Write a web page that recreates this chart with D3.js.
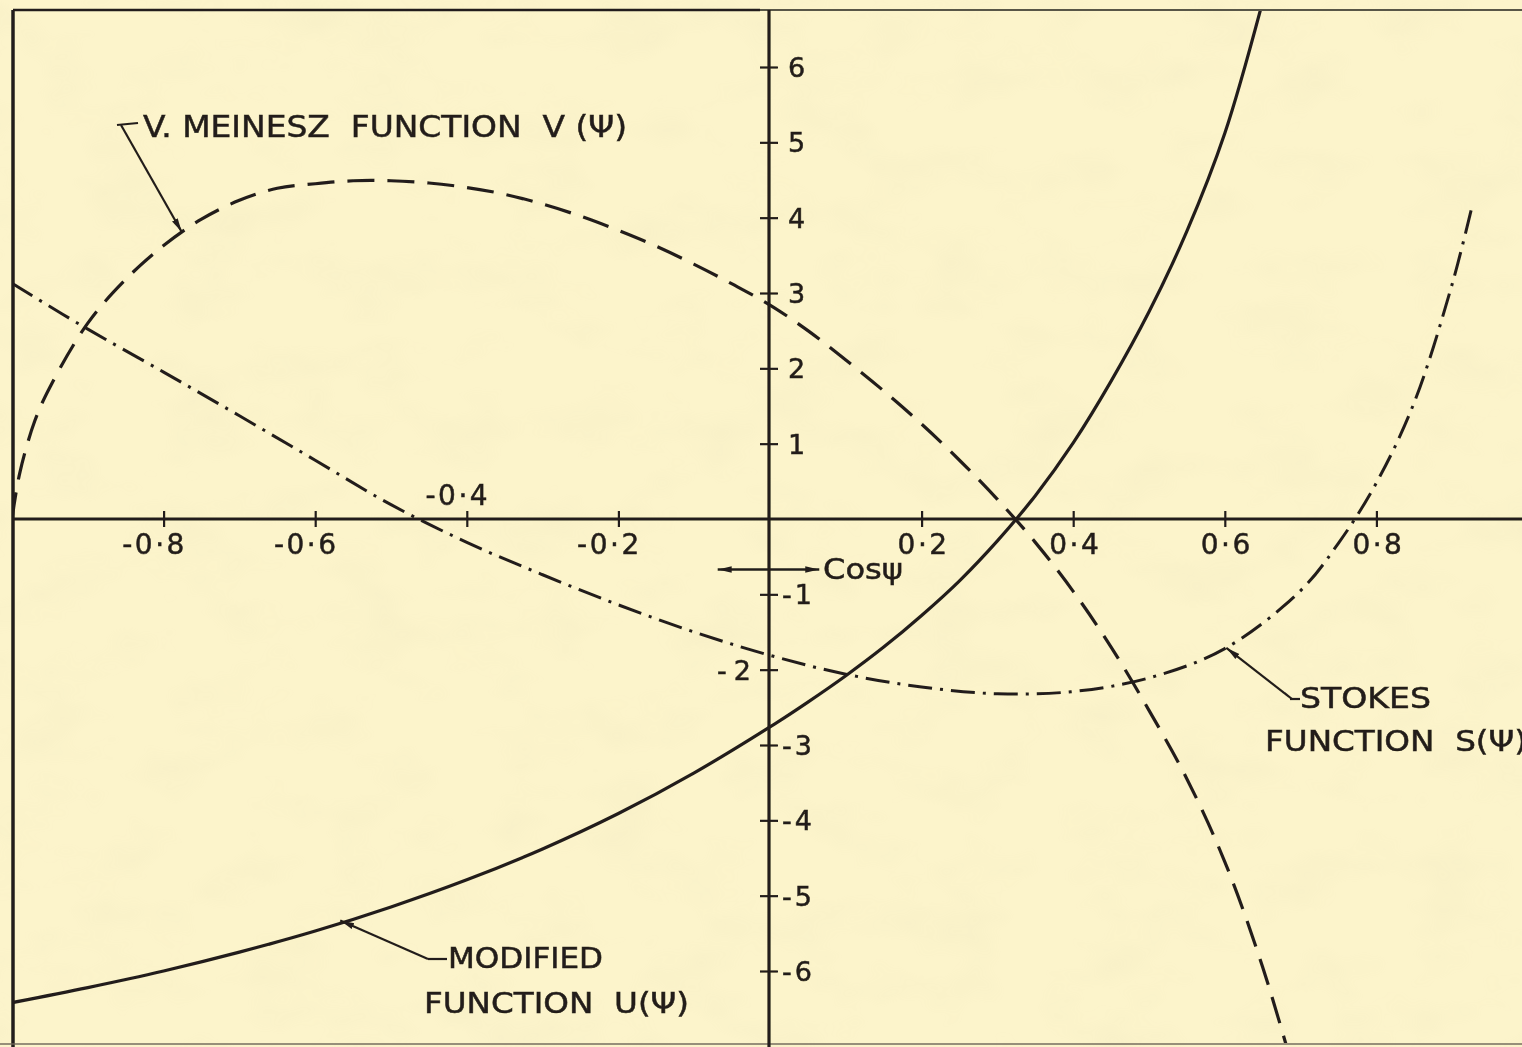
<!DOCTYPE html>
<html>
<head>
<meta charset="utf-8">
<script src="https://cdn.jsdelivr.net/npm/d3@7"></script>
<style>
  html, body { margin: 0; padding: 0; background: #fcf4cb; }
  svg { display: block; }
  text { font-family: "DejaVu Sans", "Liberation Sans", sans-serif; fill: #231f1a; stroke: #231f1a; stroke-width: 0.5px; }
</style>
</head>
<body>
<svg id="chart" width="1522" height="1047"></svg>
<script>
// Stokes function S(psi) against cos(psi)
const stokesCos = [-1, -0.95, -0.9, -0.8, -0.7, -0.6, -0.5, -0.4, -0.3, -0.2, -0.1, 0, 0.1, 0.2, 0.3, 0.4, 0.5, 0.6, 0.7, 0.75, 0.8, 0.85, 0.9, 0.925];
const stokesS   = [3.13, 2.82, 2.52, 1.95, 1.37, 0.78, 0.19, -0.31, -0.74, -1.14, -1.50, -1.81, -2.06, -2.23, -2.32, -2.29, -2.11, -1.72, -0.95, -0.32, 0.48, 1.55, 3.12, 4.10];

// Vening Meinesz function V(psi)
const meineszCos = [-1, -0.99, -0.97, -0.95, -0.9, -0.85, -0.8, -0.75, -0.7, -0.65, -0.6, -0.55, -0.5, -0.45, -0.4, -0.35, -0.3, -0.25, -0.2, -0.15, -0.1, -0.05, 0, 0.05, 0.1, 0.15, 0.2, 0.25, 0.3, 0.35, 0.4, 0.45, 0.5, 0.55, 0.6, 0.65, 0.7];
const meineszV   = [0, 0.6, 1.3, 1.75, 2.6, 3.18, 3.63, 3.98, 4.23, 4.39, 4.45, 4.49, 4.49, 4.46, 4.40, 4.31, 4.18, 4.02, 3.83, 3.62, 3.38, 3.12, 2.84, 2.50, 2.11, 1.70, 1.26, 0.78, 0.26, -0.31, -0.96, -1.70, -2.54, -3.45, -4.55, -5.95, -7.65];

// Modified function U(psi)
const modifiedCos = [-1, -0.9, -0.8, -0.7, -0.6, -0.5, -0.4, -0.3, -0.2, -0.1, 0, 0.05, 0.1, 0.15, 0.2, 0.25, 0.3, 0.35, 0.4, 0.45, 0.5, 0.55, 0.6, 0.65, 0.66];
const modifiedU   = [-6.42, -6.22, -6.00, -5.75, -5.47, -5.15, -4.79, -4.38, -3.91, -3.37, -2.76, -2.43, -2.08, -1.70, -1.28, -0.82, -0.29, 0.31, 1.01, 1.83, 2.75, 3.82, 5.12, 6.87, 7.28];

// Axis ticks
const xTicks      = [-0.8, -0.6, -0.4, -0.2, 0.2, 0.4, 0.6, 0.8];
const xTickLabels = ["-0·8", "-0·6", "-0·4", "-0·2", "0·2", "0·4", "0·6", "0·8"];
const yTicks      = [-6, -5, -4, -3, -2, -1, 1, 2, 3, 4, 5, 6];
const yTickLabels = ["-6", "-5", "-4", "-3", "-2", "-1", "1", "2", "3", "4", "5", "6"];

const W = 1522, H = 1047;
const INK = "#231f1a";
const frame = { left: 13, top: 10, right: 1522, bottom: 1044 };

const x = d3.scaleLinear().domain([-1, 1]).range([12, 1528]);
const y = d3.scaleLinear().domain([-6, 6]).range([971, 67]);

const svg = d3.select("#chart");
const defs = svg.append("defs");

// paper mottling
const paper = defs.append("filter").attr("id", "paper").attr("x", 0).attr("y", 0).attr("width", 1).attr("height", 1);
paper.append("feTurbulence").attr("type", "fractalNoise").attr("baseFrequency", "0.012 0.02").attr("numOctaves", 3).attr("seed", 7);
paper.append("feColorMatrix").attr("type", "matrix")
  .attr("values", "0 0 0 0 0.6  0 0 0 0 0.55  0 0 0 0 0.35  0 0 0 -1.4 0.75");

// slight softness of printed ink
defs.append("filter").attr("id", "ink").append("feGaussianBlur").attr("stdDeviation", 0.45);

defs.append("clipPath").attr("id", "plotClip").append("rect")
  .attr("x", frame.left + 1).attr("y", frame.top + 1)
  .attr("width", frame.right - frame.left).attr("height", frame.bottom - frame.top - 2);

defs.append("marker").attr("id", "arrow")
  .attr("viewBox", "0 0 14 8").attr("refX", 14).attr("refY", 4)
  .attr("markerWidth", 14).attr("markerHeight", 8)
  .attr("markerUnits", "userSpaceOnUse").attr("orient", "auto-start-reverse")
  .append("path").attr("d", "M0,0.8 L14,4 L0,7.2 Z").attr("fill", INK);

svg.append("rect").attr("width", W).attr("height", H).attr("fill", "#fcf4cb");
svg.append("rect").attr("width", W).attr("height", H).attr("filter", "url(#paper)").attr("opacity", 0.1);

const ink = svg.append("g").attr("filter", "url(#ink)");

// frame
ink.append("line").attr("x1", frame.left).attr("x2", 760).attr("y1", frame.top).attr("y2", frame.top)
  .attr("stroke", INK).attr("stroke-width", 2.4);
ink.append("line").attr("x1", 760).attr("x2", frame.right).attr("y1", frame.top).attr("y2", frame.top)
  .attr("stroke", INK).attr("stroke-width", 1.8).attr("opacity", 0.75);
ink.append("line").attr("x1", frame.left).attr("x2", frame.left).attr("y1", frame.top).attr("y2", H)
  .attr("stroke", INK).attr("stroke-width", 3.5);
ink.append("line").attr("x1", 0).attr("x2", W).attr("y1", frame.bottom).attr("y2", frame.bottom)
  .attr("stroke", "#6d6657").attr("stroke-width", 2).attr("opacity", 0.7);

// x axis through the origin, ticks crossing the line
const xAxis = d3.axisBottom(x).tickValues(xTicks).tickSize(8).tickFormat("");
const gx = ink.append("g").attr("transform", `translate(0,${y(0)})`).call(xAxis);
gx.select(".domain").remove();
gx.selectAll(".tick line").attr("y1", -8).attr("y2", 8).attr("stroke", INK).attr("stroke-width", 2.2);
ink.append("line").attr("x1", frame.left).attr("x2", frame.right).attr("y1", y(0)).attr("y2", y(0))
  .attr("stroke", INK).attr("stroke-width", 3.2);

// y axis through the origin
const yAxis = d3.axisRight(y).tickValues(yTicks).tickSize(9).tickFormat("");
const gy = ink.append("g").attr("transform", `translate(${x(0) - 1},0)`).call(yAxis);
gy.select(".domain").remove();
gy.selectAll(".tick line").attr("x1", -9).attr("x2", 9).attr("stroke", INK).attr("stroke-width", 2.2);
ink.append("line").attr("x1", x(0) - 1).attr("x2", x(0) - 1).attr("y1", frame.top).attr("y2", H)
  .attr("stroke", INK).attr("stroke-width", 3.2);

// x tick labels
xTicks.forEach((v, i) => {
  const neg = v < 0;
  const above = v === -0.4;
  ink.append("text")
    .attr("x", x(v) + (neg ? -9 : 0) + (v > 0 ? 2 : 0))
    .attr("y", above ? y(0) - 14 : y(0) + 35)
    .attr("text-anchor", "middle")
    .attr("font-size", 28)
    .attr("letter-spacing", 2.5)
    .text(xTickLabels[i]);
});

// y tick labels
yTicks.forEach((v, i) => {
  const t = ink.append("text")
    .attr("y", y(v) + 10)
    .attr("font-size", 27)
    .text(yTickLabels[i]);
  if (v === -2) {
    t.attr("x", x(0) - 12).attr("text-anchor", "end").attr("letter-spacing", 7);
  } else {
    t.attr("x", x(0) + (v < 0 ? 12 : 18)).attr("letter-spacing", v < 0 ? 3 : 0);
  }
});

// Cos psi direction arrow
ink.append("line")
  .attr("x1", x(-0.069)).attr("x2", x(0.065))
  .attr("y1", y(-0.67)).attr("y2", y(-0.67))
  .attr("stroke", INK).attr("stroke-width", 2.6)
  .attr("marker-start", "url(#arrow)").attr("marker-end", "url(#arrow)");
ink.append("text").attr("x", x(0.07)).attr("y", y(-0.79))
  .attr("font-size", 29).attr("textLength", 80).attr("lengthAdjust", "spacingAndGlyphs")
  .text("Cosψ");

// curves
const curves = ink.append("g").attr("clip-path", "url(#plotClip)");
const lineGen = d3.line().x(d => x(d[0])).y(d => y(d[1])).curve(d3.curveCatmullRom.alpha(0.5));

curves.append("path")
  .datum(d3.zip(modifiedCos, modifiedU))
  .attr("d", lineGen)
  .attr("fill", "none").attr("stroke", INK).attr("stroke-width", 3.2);

curves.append("path")
  .datum(d3.zip(meineszCos, meineszV))
  .attr("d", lineGen)
  .attr("fill", "none").attr("stroke", INK).attr("stroke-width", 3.2)
  .attr("stroke-dasharray", "27,13");

curves.append("path")
  .datum(d3.zip(stokesCos, stokesS))
  .attr("d", lineGen)
  .attr("fill", "none").attr("stroke", INK).attr("stroke-width", 3)
  .attr("stroke-dasharray", "24,8,3,8");

// curve labels with leaders
const leader = (pts) => ink.append("path")
  .attr("d", d3.line()(pts))
  .attr("fill", "none").attr("stroke", INK).attr("stroke-width", 2.2)
  .attr("marker-end", "url(#arrow)");

// Vening Meinesz
ink.append("line").attr("x1", 117).attr("x2", 138).attr("y1", 125).attr("y2", 123)
  .attr("stroke", INK).attr("stroke-width", 2.2);
leader([[121, 125], [x(-0.776), y(3.81)]]);
ink.append("text").attr("x", 143).attr("y", 137)
  .attr("font-size", 30).attr("textLength", 484).attr("lengthAdjust", "spacingAndGlyphs")
  .attr("xml:space", "preserve")
  .text("V. MEINESZ  FUNCTION  V (Ψ)");

// Stokes
ink.append("line").attr("x1", 1290).attr("x2", 1300).attr("y1", 699).attr("y2", 699)
  .attr("stroke", INK).attr("stroke-width", 2.2);
leader([[1292, 699], [x(0.602), y(-1.71)]]);
ink.append("text").attr("x", 1300).attr("y", 708)
  .attr("font-size", 28).attr("textLength", 131).attr("lengthAdjust", "spacingAndGlyphs")
  .text("STOKES");
ink.append("text").attr("x", 1265).attr("y", 751)
  .attr("font-size", 28).attr("textLength", 262).attr("lengthAdjust", "spacingAndGlyphs")
  .attr("xml:space", "preserve")
  .text("FUNCTION  S(Ψ)");

// Modified
ink.append("path").attr("d", d3.line()([[428, 959], [447, 959]]))
  .attr("stroke", INK).attr("stroke-width", 2.2);
leader([[428, 959], [x(-0.567), y(-5.33)]]);
ink.append("text").attr("x", 448).attr("y", 968)
  .attr("font-size", 29).attr("textLength", 155).attr("lengthAdjust", "spacingAndGlyphs")
  .text("MODIFIED");
ink.append("text").attr("x", 424).attr("y", 1013)
  .attr("font-size", 29).attr("textLength", 265).attr("lengthAdjust", "spacingAndGlyphs")
  .attr("xml:space", "preserve")
  .text("FUNCTION  U(Ψ)");
</script>
</body>
</html>
